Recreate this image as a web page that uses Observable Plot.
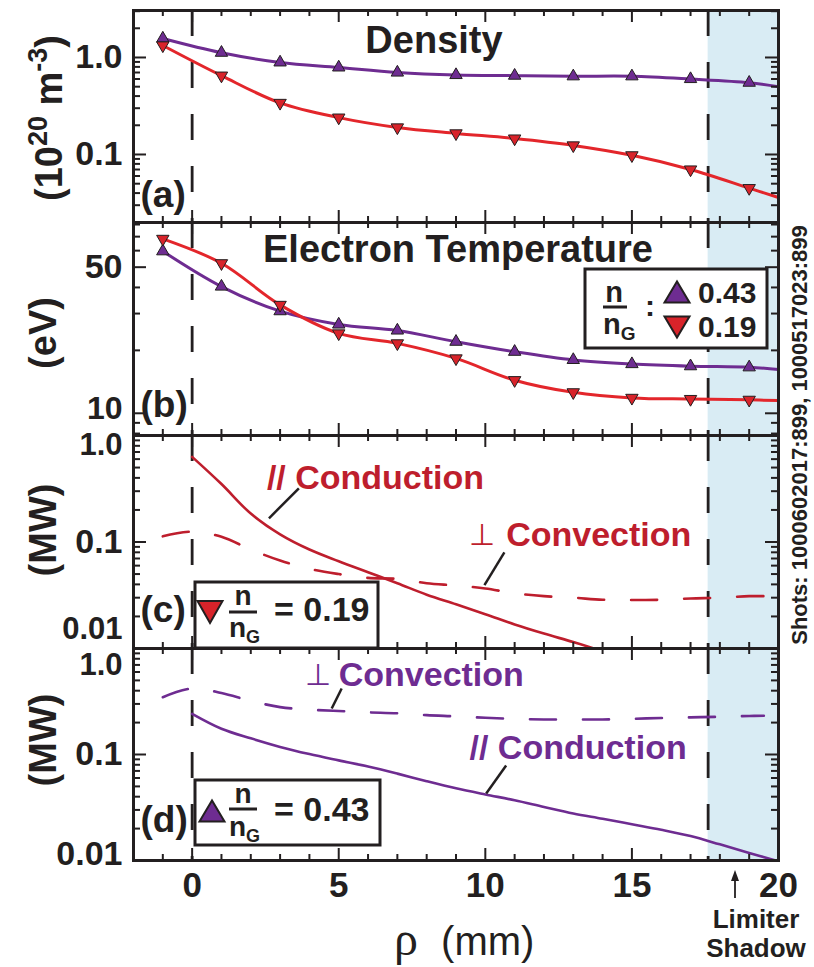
<!DOCTYPE html>
<html><head><meta charset="utf-8">
<script src="https://cdn.jsdelivr.net/npm/d3@7"></script>
<script src="https://cdn.jsdelivr.net/npm/@observablehq/plot@0.6"></script>
<style>
body{margin:0;background:#fff;}
#chart{position:relative;width:814px;height:967px;overflow:hidden;background:#fff;}
#chart svg{position:absolute;left:0;overflow:visible;}
</style></head><body><div id="chart"></div>
<script>
// ---------- data ----------
const rhoMarkers = [-1, 1, 3, 5, 7, 9, 11, 13, 15, 17, 19];
const rhoLine = [-1, 1, 3, 5, 7, 9, 11, 13, 15, 17, 19, 20];
// density (1e20 m^-3)
const densityHigh = [1.57, 1.12, 0.89, 0.79, 0.70, 0.66, 0.65, 0.64, 0.64, 0.60, 0.55];
const densityHighLine = [1.57, 1.12, 0.89, 0.79, 0.70, 0.66, 0.65, 0.64, 0.64, 0.60, 0.55, 0.50];
const densityLow = [1.33, 0.65, 0.34, 0.24, 0.19, 0.165, 0.146, 0.124, 0.098, 0.070, 0.045];
const densityLowLine = [1.33, 0.65, 0.34, 0.24, 0.19, 0.165, 0.146, 0.124, 0.098, 0.070, 0.045, 0.036];
// electron temperature (eV)
const teHigh = [59.6, 40.4, 30.8, 26.6, 24.9, 22.0, 19.7, 18.0, 17.2, 16.8, 16.6];
const teHighLine = [59.6, 40.4, 30.8, 26.6, 24.9, 22.0, 19.7, 18.0, 17.2, 16.8, 16.6, 16.2];
const teLow = [68.3, 52.2, 33.0, 24.1, 21.6, 18.3, 14.4, 12.6, 11.85, 11.7, 11.6];
const teLowLine = [68.3, 52.2, 33.0, 24.1, 21.6, 18.3, 14.4, 12.6, 11.85, 11.7, 11.6, 11.5];
// power (MW), n/nG = 0.19
const condLowRho = [0, 1, 2, 3, 4, 5, 6, 7, 8, 9, 10, 11, 12, 13, 13.7];
const condLow = [0.63, 0.35, 0.185, 0.118, 0.085, 0.066, 0.052, 0.041, 0.032, 0.026, 0.021, 0.0168, 0.0138, 0.0115, 0.010];
const convLowRho = [-1, 0, 1, 2, 3, 4, 5, 6, 7, 8, 9, 10, 11, 12, 13, 14, 15, 16, 17, 18, 19, 19.5];
const convLow = [0.113, 0.125, 0.112, 0.085, 0.067, 0.056, 0.050, 0.046, 0.045, 0.041, 0.039, 0.0366, 0.033, 0.031, 0.030, 0.0287, 0.0285, 0.0287, 0.0295, 0.030, 0.031, 0.031];
// power (MW), n/nG = 0.43
const condHighRho = [0, 1, 2, 3, 4, 5, 6, 7, 8, 9, 10, 11, 12, 13, 14, 15, 16, 17, 18, 19, 19.9];
const condHigh = [0.242, 0.175, 0.142, 0.118, 0.101, 0.088, 0.077, 0.066, 0.056, 0.048, 0.042, 0.037, 0.032, 0.0278, 0.0248, 0.022, 0.0195, 0.0170, 0.0142, 0.0118, 0.0100];
const convHighRho = [-1, 0, 1, 2, 3, 4, 5, 6, 7, 8, 9, 10, 11, 12, 13, 14, 15, 16, 17, 18, 19, 19.5];
const convHigh = [0.347, 0.42, 0.38, 0.32, 0.28, 0.265, 0.257, 0.25, 0.245, 0.235, 0.229, 0.222, 0.217, 0.214, 0.214, 0.214, 0.217, 0.221, 0.224, 0.227, 0.231, 0.232];
// reference lines / region
const limiterShadow = [17.6, 20];
const refLines = [0, 17.6];
// ticks
const xMajorTicks = [0, 5, 10, 15];
const xMinorTicks = [-1, 1, 2, 3, 4, 6, 7, 8, 9, 11, 12, 13, 14, 16, 17, 18, 19];
const xTickLabels = [0, 5, 10, 15, 20];
const densMinor = [0.02,0.03,0.04,0.05,0.06,0.07,0.08,0.09,0.2,0.3,0.4,0.5,0.6,0.7,0.8,0.9,2,3];
const densMajor = [0.1, 1];
const teMinor = [8, 9, 20, 30, 40, 60, 70, 80];
const teMajor = [10, 50];
const pMinor = [0.02,0.03,0.04,0.05,0.06,0.07,0.08,0.09,0.2,0.3,0.4,0.5,0.6,0.7,0.8,0.9];
const pMajor = [0.1];
// annotation anchors (data coords)
const leadersC = [{x1: 3.64, y1: 0.319, x2: 2.62, y2: 0.167}, {x1: 10.65, y1: 0.080, x2: 9.97, y2: 0.0393}];
const leadersD = [{x1: 5.1, y1: 0.42, x2: 4.76, y2: 0.272}, {x1: 10.71, y1: 0.0787, x2: 10.03, y2: 0.0429}];

// ---------- style ----------
const W = 814, ML = 133, MR = 36, FW = W - ML - MR;
const INK = "#231f20", PURPLE = "#6e2c91", RED = "#e3262b", REDDARK = "#be1e2d", MARKRED = "#d8232a", SHADE = "#d9ecf4";
const FONT = '"Liberation Sans", Arial, Helvetica, sans-serif';
const TICKFONT = 34;
const container = document.getElementById("chart");

function triangleDown() {
  return {draw(ctx, size) {
    const y = -Math.sqrt(size / (Math.sqrt(3) * 3));
    ctx.moveTo(0, -y * 2);
    ctx.lineTo(-Math.sqrt(3) * y, y);
    ctx.lineTo(Math.sqrt(3) * y, y);
    ctx.closePath();
  }};
}

function frameTicks(h, yMinor, yMajor) {
  const s = {stroke: INK, strokeWidth: 2};
  return [
    Plot.tickY(yMinor, {y: d => d, insetRight: FW - 7, ...s}),
    Plot.tickY(yMinor, {y: d => d, insetLeft: FW - 7, ...s}),
    Plot.tickY(yMajor, {y: d => d, insetRight: FW - 13, ...s}),
    Plot.tickY(yMajor, {y: d => d, insetLeft: FW - 13, ...s}),
    Plot.tickX(xMinorTicks, {x: d => d, insetBottom: h - 6, ...s}),
    Plot.tickX(xMinorTicks, {x: d => d, insetTop: h - 6, ...s}),
    Plot.tickX(xMajorTicks, {x: d => d, insetBottom: h - 12, ...s}),
    Plot.tickX(xMajorTicks, {x: d => d, insetTop: h - 12, ...s})
  ];
}

function background() {
  return [
    Plot.rect([limiterShadow], {x1: d => d[0], x2: d => d[1], fill: SHADE}),
    Plot.ruleX(refLines, {stroke: INK, strokeWidth: 2.8, strokeDasharray: "26,26"})
  ];
}

function yLabels(values, labels, dy = 0, fontSize = TICKFONT) {
  return Plot.axisY(values, {anchor: "left", tickSize: 0, tickPadding: 11, fontSize, dy,
    tickFormat: d => labels[values.indexOf(d)], label: null});
}

function panelLetter(t, h, dy) {
  return Plot.text([t], {frameAnchor: "bottom-left", textAnchor: "start", lineAnchor: "middle", dx: 7, dy, fontSize: 37, fontWeight: "bold", fill: INK});
}

function makePanel({top, h, domain, marks, extraBottom = 0, xAxis = false}) {
  const p = Plot.plot({
    width: W, height: h + extraBottom,
    marginLeft: ML, marginRight: MR, marginTop: 0, marginBottom: extraBottom,
    x: xAxis ? {domain: [-2, 20]} : {domain: [-2, 20], axis: null},
    y: {type: "log", domain},
    style: {fontFamily: FONT, fontWeight: "bold", color: INK, overflow: "visible", background: "transparent"},
    marks
  });
  p.style.top = top + "px";
  container.append(p);
  return p;
}

// ---------- panel (a) density ----------
makePanel({top: 10, h: 212, domain: [0.0199, 3.05], marks: [
  ...background(),
  Plot.line(densityHighLine, {x: rhoLine, y: d => d, stroke: PURPLE, strokeWidth: 3, curve: "catmull-rom"}),
  Plot.line(densityLowLine, {x: rhoLine, y: d => d, stroke: RED, strokeWidth: 3, curve: "catmull-rom"}),
  Plot.dot(densityHigh, {x: rhoMarkers, y: d => d, symbol: "triangle", r: 4.6, fill: PURPLE, stroke: INK, strokeWidth: 1}),
  Plot.dot(densityLow, {x: rhoMarkers, y: d => d, symbol: triangleDown(), r: 4.6, fill: MARKRED, stroke: INK, strokeWidth: 1}),
  ...frameTicks(212, densMinor, densMajor),
  Plot.frame({stroke: INK, strokeWidth: 3}),
  yLabels([1, 0.1], ["1.0", "0.1"]),
  Plot.text(["Density"], {frameAnchor: "top", textAnchor: "middle", lineAnchor: "middle", dx: -22, dy: 30, fontSize: 38, fontWeight: "bold", fill: INK}),
  panelLetter("(a)", 212, -27)
]});

// ---------- panel (b) electron temperature ----------
makePanel({top: 222, h: 213, domain: [7.83, 81.8], marks: [
  ...background(),
  Plot.line(teHighLine, {x: rhoLine, y: d => d, stroke: PURPLE, strokeWidth: 3, curve: "catmull-rom"}),
  Plot.line(teLowLine, {x: rhoLine, y: d => d, stroke: RED, strokeWidth: 3, curve: "catmull-rom"}),
  Plot.dot(teHigh, {x: rhoMarkers, y: d => d, symbol: "triangle", r: 4.6, fill: PURPLE, stroke: INK, strokeWidth: 1}),
  Plot.dot(teLow, {x: rhoMarkers, y: d => d, symbol: triangleDown(), r: 4.6, fill: MARKRED, stroke: INK, strokeWidth: 1}),
  ...frameTicks(213, teMinor, teMajor),
  Plot.frame({stroke: INK, strokeWidth: 3}),
  yLabels([50], ["50"]),
  yLabels([10], ["10"], -5, 32),
  Plot.text(["Electron Temperature"], {frameAnchor: "top", textAnchor: "middle", lineAnchor: "middle", dx: 2, dy: 27, fontSize: 38, fontWeight: "bold", fill: INK}),
  panelLetter("(b)", 213, -30)
]});

// ---------- panel (c) power, n/nG = 0.19 ----------
makePanel({top: 435, h: 213, domain: [0.01, 1], marks: [
  ...background(),
  Plot.line(convLow, {x: convLowRho, y: d => d, stroke: REDDARK, strokeWidth: 2.6, strokeDasharray: "26,27", curve: "catmull-rom"}),
  Plot.line(condLow, {x: condLowRho, y: d => d, stroke: REDDARK, strokeWidth: 2.6, curve: "catmull-rom", clip: true}),
  Plot.link(leadersC, {x1: "x1", y1: "y1", x2: "x2", y2: "y2", stroke: INK, strokeWidth: 2.5}),
  Plot.text(["// Conduction"], {x: [2.55], y: [0.395], textAnchor: "start", fontSize: 34, fontWeight: "bold", fill: REDDARK}),
  Plot.text(["⊥"], {x: [9.46], y: [0.1156], textAnchor: "start", fontSize: 30, fontWeight: "normal", fill: REDDARK}),
  Plot.text(["Convection"], {x: [10.71], y: [0.1156], textAnchor: "start", fontSize: 34, fontWeight: "bold", fill: REDDARK}),
  ...frameTicks(213, pMinor, pMajor),
  Plot.frame({stroke: INK, strokeWidth: 3}),
  yLabels([1], ["1.0"], 10, 31),
  yLabels([0.1], ["0.1"]),
  yLabels([0.01], ["0.01"], -19, 31),
  panelLetter("(c)", 213, -38)
]});

// ---------- panel (d) power, n/nG = 0.43 ----------
makePanel({top: 648, h: 212, domain: [0.01, 1], extraBottom: 60, xAxis: true, marks: [
  ...background(),
  Plot.line(convHigh, {x: convHighRho, y: d => d, stroke: PURPLE, strokeWidth: 2.6, strokeDasharray: "26,27", curve: "catmull-rom"}),
  Plot.line(condHigh, {x: condHighRho, y: d => d, stroke: PURPLE, strokeWidth: 2.6, curve: "catmull-rom", clip: true}),
  Plot.link(leadersD, {x1: "x1", y1: "y1", x2: "x2", y2: "y2", stroke: INK, strokeWidth: 2.5}),
  Plot.text(["⊥"], {x: [3.84], y: [0.556], textAnchor: "start", fontSize: 30, fontWeight: "normal", fill: PURPLE}),
  Plot.text(["Convection"], {x: [5.0], y: [0.556], textAnchor: "start", fontSize: 34, fontWeight: "bold", fill: PURPLE}),
  Plot.text(["// Conduction"], {x: [9.46], y: [0.114], textAnchor: "start", fontSize: 34, fontWeight: "bold", fill: PURPLE}),
  ...frameTicks(212, pMinor, pMajor),
  Plot.frame({stroke: INK, strokeWidth: 3}),
  yLabels([1], ["1.0"], 17, 31),
  yLabels([0.1], ["0.1"]),
  yLabels([0.01], ["0.01"], -6),
  Plot.axisX(xTickLabels, {anchor: "bottom", tickSize: 0, tickPadding: 12, fontSize: 35, label: null}),
  panelLetter("(d)", 212, -40)
]});

// ---------- overlay: titles, legends, notes ----------
const ov = d3.select(container).append("svg")
  .attr("width", W).attr("height", 967).style("top", "0px")
  .attr("font-family", FONT).attr("font-weight", "bold").attr("fill", INK);

function yTitle(x, y, parts) {
  const t = ov.append("text").attr("transform", `translate(${x},${y}) rotate(-90)`)
    .attr("text-anchor", "middle").attr("font-size", 38);
  parts.forEach(p => t.append("tspan").text(p.t).attr("font-size", p.s || 38).attr("dy", p.dy || 0));
}
yTitle(62, 118, [{t: "(10"}, {t: "20", s: 27, dy: -15}, {t: " m", dy: 15}, {t: "-3", s: 27, dy: -15}, {t: ")", dy: 15}]);
yTitle(56, 333, [{t: "(eV)"}]);
yTitle(56, 530, [{t: "(MW)"}]);
yTitle(56, 740, [{t: "(MW)"}]);

function tri(cx, cy, w, h, down, fill) {
  const p = down
    ? `M${cx - w / 2},${cy - h / 2}L${cx + w / 2},${cy - h / 2}L${cx},${cy + h / 2}Z`
    : `M${cx - w / 2},${cy + h / 2}L${cx + w / 2},${cy + h / 2}L${cx},${cy - h / 2}Z`;
  ov.append("path").attr("d", p).attr("fill", fill).attr("stroke", INK).attr("stroke-width", 2);
}
function frac(cx, topBase, barY, botBase, x1, x2, size) {
  ov.append("text").attr("x", cx).attr("y", topBase).attr("text-anchor", "middle").attr("font-size", size).text("n");
  ov.append("line").attr("x1", x1).attr("x2", x2).attr("y1", barY).attr("y2", barY).attr("stroke", INK).attr("stroke-width", 3);
  const b = ov.append("text").attr("x", x1).attr("y", botBase).attr("font-size", size);
  b.append("tspan").text("n");
  b.append("tspan").text("G").attr("font-size", Math.round(size * 0.66)).attr("dy", 6);
}

// legend (b)
ov.append("rect").attr("x", 585).attr("y", 269).attr("width", 182).attr("height", 79).attr("fill", "#fff").attr("stroke", INK).attr("stroke-width", 3);
frac(614, 302, 307, 334, 603, 627, 29);
ov.append("text").attr("x", 650).attr("y", 316).attr("text-anchor", "middle").attr("font-size", 30).text(":");
tri(677, 292, 25, 21, false, PURPLE);
tri(677, 327, 25, 21, true, MARKRED);
ov.append("text").attr("x", 698).attr("y", 303).attr("font-size", 30).text("0.43");
ov.append("text").attr("x", 698).attr("y", 337).attr("font-size", 30).text("0.19");

// legend (c)
ov.append("rect").attr("x", 195).attr("y", 582).attr("width", 183).attr("height", 66).attr("fill", "#fff").attr("stroke", INK).attr("stroke-width", 3);
tri(210, 612, 25, 22, true, MARKRED);
frac(243, 605, 612, 637, 229, 257, 28);
ov.append("text").attr("x", 274).attr("y", 621).attr("font-size", 34).text("= 0.19");

// legend (d)
ov.append("rect").attr("x", 195).attr("y", 780).attr("width", 185).attr("height", 65).attr("fill", "#fff").attr("stroke", INK).attr("stroke-width", 3);
tri(212, 811, 25, 21, false, PURPLE);
frac(243, 803, 809, 836, 229, 257, 28);
ov.append("text").attr("x", 274).attr("y", 821).attr("font-size", 34).text("= 0.43");

// shots note
ov.append("text").attr("transform", "translate(807,435) rotate(-90)").attr("text-anchor", "middle")
  .attr("font-size", 22).text("Shots: 1000602017:899, 1000517023:899");

// x title
const xt = ov.append("text").attr("x", 394).attr("y", 955).attr("font-weight", "normal");
xt.append("tspan").text("ρ").attr("font-family", '"Liberation Serif", "DejaVu Serif", serif').attr("font-size", 48);
xt.append("tspan").text(" (mm)").attr("font-size", 40).attr("dx", 12);

// limiter shadow note
ov.append("line").attr("x1", 735).attr("x2", 735).attr("y1", 898).attr("y2", 878).attr("stroke", INK).attr("stroke-width", 1.8);
ov.append("path").attr("d", "M735,870L731,881L739,881Z").attr("fill", INK);
ov.append("text").attr("x", 756).attr("y", 928).attr("text-anchor", "middle").attr("font-size", 26).text("Limiter");
ov.append("text").attr("x", 756).attr("y", 957).attr("text-anchor", "middle").attr("font-size", 26).text("Shadow");
</script></body></html>
